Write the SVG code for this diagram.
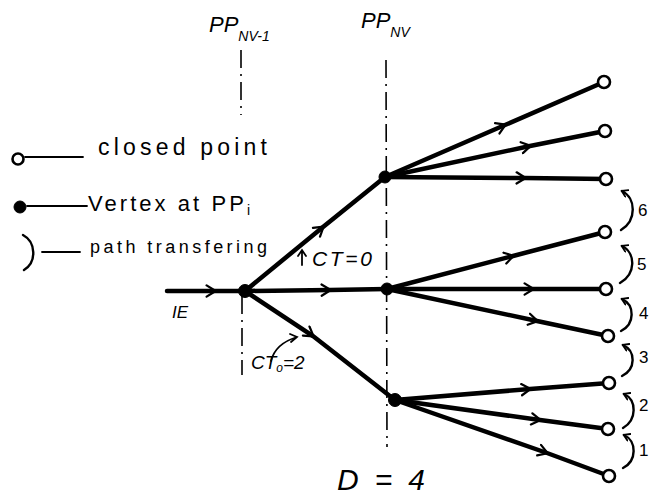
<svg xmlns="http://www.w3.org/2000/svg" width="650" height="495" viewBox="0 0 650 495">
<defs>
<marker id="chev" viewBox="0 0 10 10" markerUnits="userSpaceOnUse" markerWidth="14" markerHeight="14" refX="7" refY="5" orient="auto-start-reverse">
<path d="M1,1 L7.5,5 L1,9" fill="none" stroke="#000" stroke-width="1.6" stroke-linecap="round" stroke-linejoin="round"/>
</marker>
<marker id="chevs" viewBox="0 0 10 10" markerUnits="userSpaceOnUse" markerWidth="9" markerHeight="9" refX="7" refY="5" orient="auto-start-reverse">
<path d="M1,1 L7.5,5 L1,9" fill="none" stroke="#000" stroke-width="2" stroke-linecap="round" stroke-linejoin="round"/>
</marker>
</defs>
<style>
.edge{fill:none;stroke:#000;stroke-width:4.5;stroke-linecap:round;marker-mid:url(#chev)}
.pp{fill:none;stroke:#000;stroke-width:1.6;stroke-dasharray:18 6 2 6}
.open{fill:#fff;stroke:#000;stroke-width:2.6}
.vert{fill:#000;stroke:#000;stroke-width:1}
.br{fill:none;stroke:#000;stroke-width:2.4;stroke-linecap:round}
.thin{fill:none;stroke:#000;stroke-width:1.8;stroke-linecap:round}
.t{font-family:"Liberation Sans",Arial,sans-serif;fill:#000}
.it{font-family:"Liberation Sans",Arial,sans-serif;font-style:italic;fill:#000}
</style>
<rect width="650" height="495" fill="#fff"/>

<g id="guides">
<path class="pp" d="M241,50 L241,115"/>
<path class="pp" d="M242,296 L242,375"/>
<path class="pp" d="M386,60 L387,447"/>
<text class="it" x="209" y="32" font-size="22">PP<tspan font-size="14" dy="9">NV-1</tspan></text>
<text class="it" x="361" y="28" font-size="22">PP<tspan font-size="14" dy="9">NV</tspan></text>
</g>

<g id="legend">
<circle class="open" cx="18" cy="159" r="5.5"/>
<path class="thin" d="M25,157 L83,157"/>
<text class="t" x="98" y="155" font-size="23" textLength="169" lengthAdjust="spacing">closed point</text>
<circle class="vert" cx="20" cy="207" r="6"/>
<path class="thin" d="M27,206 L87,206"/>
<text class="t" x="88" y="211" font-size="22" textLength="162" lengthAdjust="spacing">Vertex at PP<tspan font-size="14" dy="4">i</tspan></text>
<path class="br" d="M23,235 C36,242 37,262 24,270"/>
<path class="thin" d="M42,252 L80,252"/>
<text class="t" x="90" y="253" font-size="18" textLength="177" lengthAdjust="spacing">path transfering</text>
</g>

<g id="connectors">
<path class="edge" d="M167,291 L215,291 L245,291"/>
<path class="edge" d="M245,291 L323,227 L385,177"/>
<path class="edge" d="M245,291 L330,290 L387,289"/>
<path class="edge" d="M245,291 L313,336 L395,400"/>
<path class="edge" d="M385,177 L505,125 L604,82"/>
<path class="edge" d="M385,177 L530,146 L605,131"/>
<path class="edge" d="M385,177 L525,178 L606,179"/>
<path class="edge" d="M387,289 L513,256 L605,232"/>
<path class="edge" d="M387,289 L533,289 L606,289"/>
<path class="edge" d="M387,289 L537,321 L608,336"/>
<path class="edge" d="M395,400 L530,389 L609,383"/>
<path class="edge" d="M395,400 L540,420 L608,429"/>
<path class="edge" d="M395,400 L547,453 L609,476"/>
</g>

<g id="v0"><circle class="vert" cx="245" cy="291" r="6.5"/></g>
<g id="v1"><circle class="vert" cx="385" cy="177" r="6"/></g>
<g id="v2"><circle class="vert" cx="387" cy="289" r="6"/></g>
<g id="v3"><circle class="vert" cx="395" cy="400" r="6.5"/></g>

<g id="e1"><circle class="open" cx="604" cy="82" r="6"/></g>
<g id="e2"><circle class="open" cx="605" cy="131" r="6"/></g>
<g id="e3"><circle class="open" cx="606" cy="179" r="6"/></g>
<g id="e4"><circle class="open" cx="605" cy="232" r="6"/></g>
<g id="e5"><circle class="open" cx="606" cy="289" r="6"/></g>
<g id="e6"><circle class="open" cx="608" cy="336" r="6"/></g>
<g id="e7"><circle class="open" cx="609" cy="383" r="6"/></g>
<g id="e8"><circle class="open" cx="608" cy="429" r="6"/></g>
<g id="e9"><circle class="open" cx="609" cy="476" r="6"/></g>

<g id="transfers">
<path class="br" marker-start="url(#chevs)" d="M622,191 C636,198 637,220 621,230"/>
<path class="br" marker-start="url(#chevs)" d="M622,246 C636,253 636,274 620,283"/>
<path class="br" marker-start="url(#chevs)" d="M622,299 C635,305 635,324 621,331"/>
<path class="br" marker-start="url(#chevs)" d="M623,345 C636,351 636,369 622,376"/>
<path class="br" marker-start="url(#chevs)" d="M624,394 C637,400 637,420 623,428"/>
<path class="br" marker-start="url(#chevs)" d="M624,435 C637,441 637,461 623,468"/>
<text class="t" x="638" y="216" font-size="17">6</text>
<text class="t" x="637" y="270" font-size="17">5</text>
<text class="t" x="639" y="319" font-size="17">4</text>
<text class="t" x="639" y="363" font-size="17">3</text>
<text class="t" x="639" y="411" font-size="17">2</text>
<text class="t" x="639" y="456" font-size="17">1</text>
</g>

<g id="labels">
<text class="it" x="172" y="318" font-size="17">IE</text>
<path class="thin" d="M302,265 L302,251 M298,256 L302,250 L306,256"/>
<text class="it" x="312" y="266" font-size="21" textLength="60" lengthAdjust="spacing">CT=0</text>
<path class="thin" d="M271,361 C274,349 284,341 297,337 M290,334 L297,337 L291,342"/>
<text class="it" x="251" y="369" font-size="19">CT<tspan font-size="12" dy="3">o</tspan><tspan dy="-3">=2</tspan></text>
<text class="it" x="337" y="490" font-size="30" textLength="88" lengthAdjust="spacing">D=4</text>
</g>
</svg>
